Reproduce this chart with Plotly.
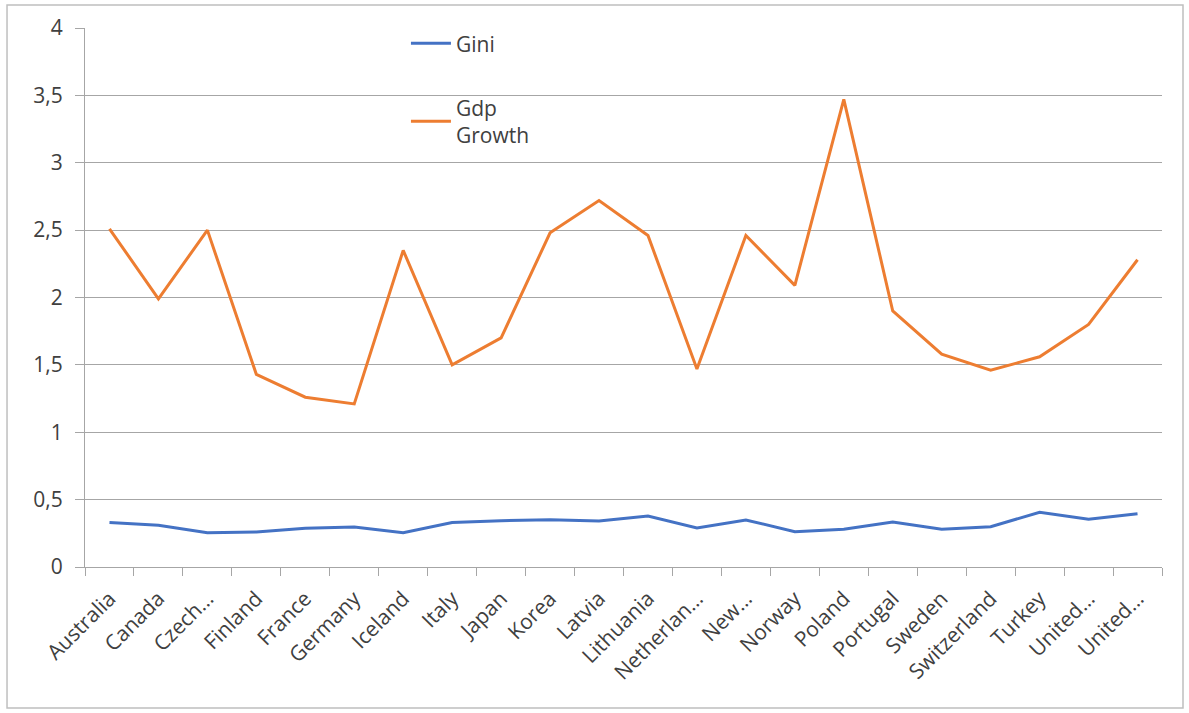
import plotly.graph_objects as go

countries = ["Australia", "Canada", "Czech Republic", "Finland", "France", "Germany",
             "Iceland", "Italy", "Japan", "Korea", "Latvia", "Lithuania", "Netherlands",
             "New Zealand", "Norway", "Poland", "Portugal", "Sweden", "Switzerland",
             "Turkey", "United Kingdom", "United States"]
tick_labels = ["Australia", "Canada", "Czech…", "Finland", "France", "Germany",
               "Iceland", "Italy", "Japan", "Korea", "Latvia", "Lithuania", "Netherlan…",
               "New…", "Norway", "Poland", "Portugal", "Sweden", "Switzerland",
               "Turkey", "United…", "United…"]
gini = [0.33, 0.31, 0.255, 0.26, 0.287, 0.297, 0.255, 0.33, 0.344, 0.351, 0.341, 0.378,
        0.289, 0.349, 0.262, 0.28, 0.334, 0.28, 0.299, 0.406, 0.354, 0.396]
gdp_growth = [2.51, 1.99, 2.5, 1.43, 1.26, 1.21, 2.35, 1.5, 1.7, 2.48, 2.72, 2.46,
              1.47, 2.46, 2.09, 3.47, 1.9, 1.58, 1.46, 1.56, 1.8, 2.28]

fig = go.Figure()
fig.add_trace(go.Scatter(x=countries, y=gini, mode="lines", name="Gini",
                         legendgroup="a",
                         line=dict(color="#4472C4", width=3)))
fig.add_trace(go.Scatter(x=countries, y=gdp_growth, mode="lines", name="Gdp<br>Growth",
                         legendgroup="b",
                         line=dict(color="#ED7D31", width=3)))

font = "Open Sans, Noto Sans, sans-serif"
fig.update_layout(
    width=1189, height=713,
    margin=dict(l=85, r=27, t=28, b=146),
    paper_bgcolor="white", plot_bgcolor="white",
    separators=", ",
    font=dict(family=font, size=20, color="#404040"),
    showlegend=True,
    legend=dict(x=0.298, y=1.009, xanchor="left", yanchor="top",
                bgcolor="rgba(0,0,0,0)", traceorder="grouped",
                tracegroupgap=34, font=dict(size=21, color="#404040"),
                itemwidth=40),
    xaxis=dict(type="category", tickmode="array", tickvals=countries,
               ticktext=tick_labels, tickangle=-45, tickson="boundaries",
               ticks="outside", ticklen=8, tickcolor="#A6A6A6",
               ticklabelstandoff=10,
               showgrid=False, showline=True, linecolor="#A6A6A6", linewidth=1,
               tickfont=dict(size=21, color="#404040"), range=[-0.5, 21.5]),
    yaxis=dict(range=[0, 4], dtick=0.5, ticks="outside", ticklen=9,
               tickcolor="#A6A6A6", showgrid=True, gridcolor="#A6A6A6", gridwidth=1,
               showline=True, linecolor="#A6A6A6", linewidth=1, zeroline=False,
               ticklabelstandoff=8,
               tickfont=dict(size=21, color="#404040")),
)
fig.add_shape(type="rect", xref="paper", yref="paper",
              x0=-0.0724, x1=1.0195, y0=-0.2616, y1=1.0427,
              line=dict(color="#BFBFBF", width=1.5), layer="below")

fig.write_html("out.html")
